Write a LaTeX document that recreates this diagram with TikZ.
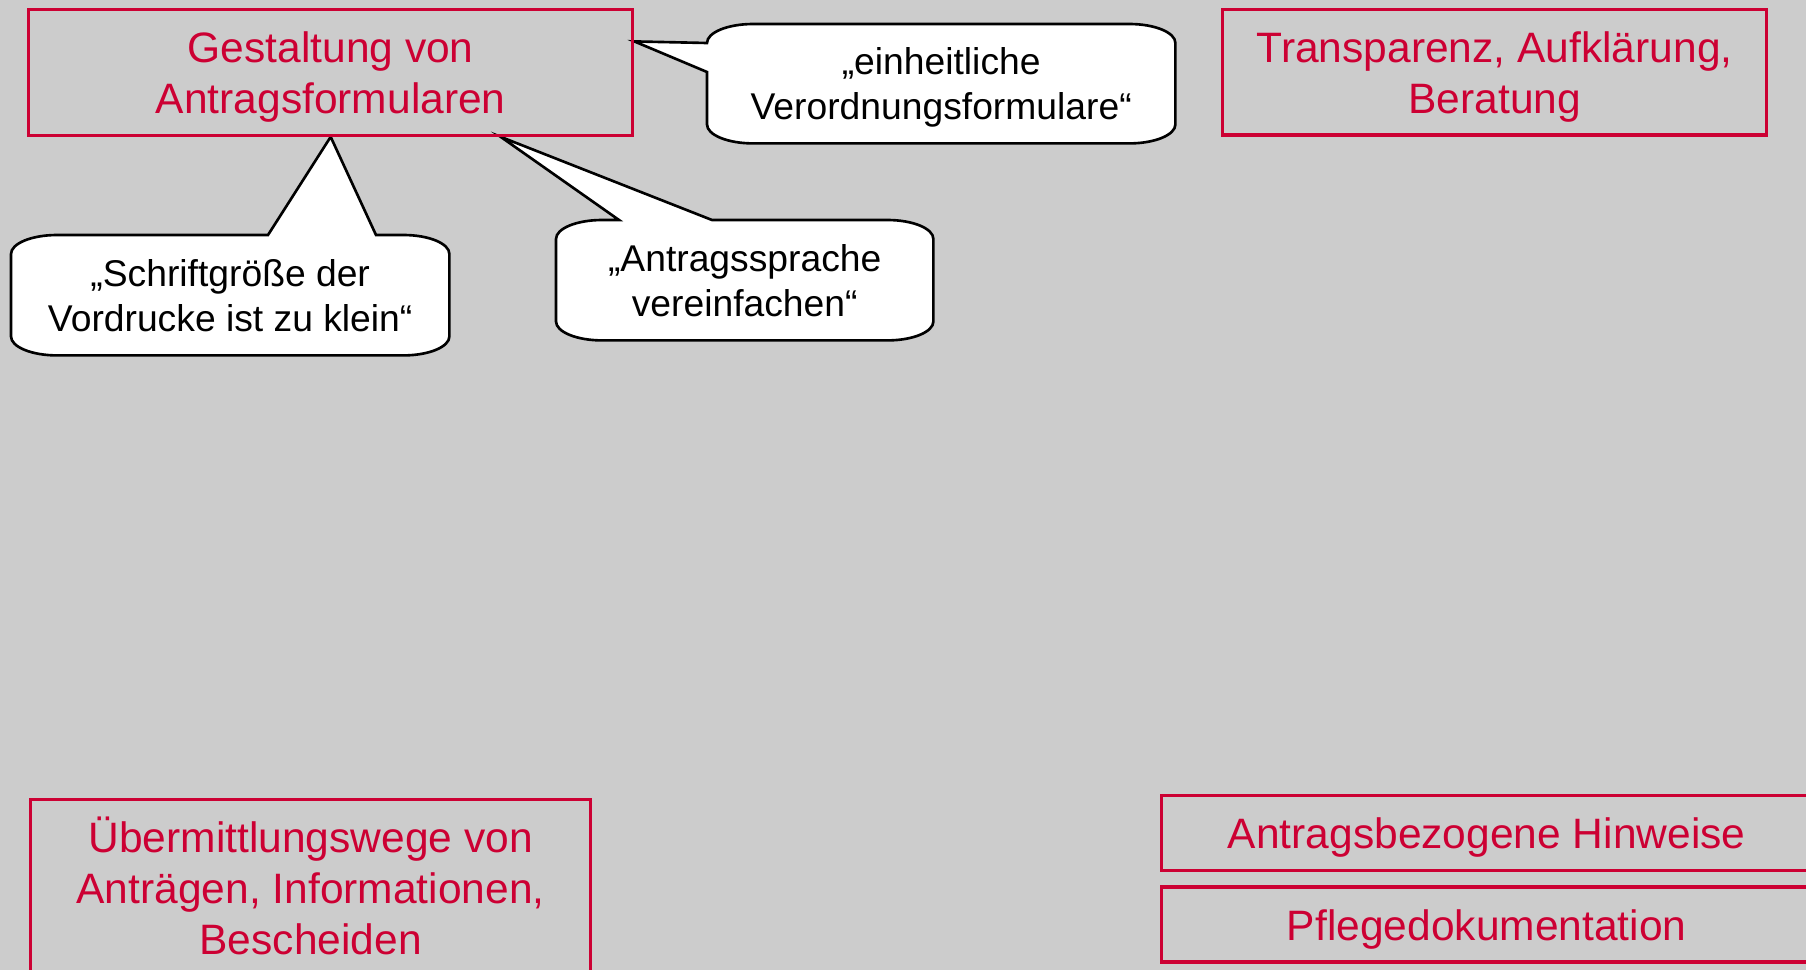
\documentclass[tikz,border=0pt]{standalone}
\usepackage{fontspec}
\setmainfont{Liberation Sans}
\usepackage{tikz}
\usetikzlibrary{positioning,backgrounds}
\definecolor{crimson}{HTML}{CC0033}
\definecolor{slidebg}{HTML}{CCCCCC}
\newcommand{\nodepth}[1]{\raisebox{0pt}[\height][0pt]{#1}}
\tikzset{
  topic/.style={draw=crimson,line width=0.95pt,text=crimson,align=center,
                inner sep=0pt,font=\fontsize{12.1}{14.5}\selectfont},
  quote/.style={align=center,inner sep=0pt,
                font=\fontsize{10.6}{12.8}\selectfont},
  bubble/.style={draw=black,fill=white,line width=0.75pt,
                 x radius=4.6mm,y radius=1.9mm},
}
\begin{document}
\begin{tikzpicture}
  \useasboundingbox (0,0) rectangle (18.06,-9.70);
  \begin{pgfonlayer}{background}
    \fill[slidebg] (0,0) rectangle (18.06,-9.70);
  \end{pgfonlayer}
  \clip (0,0) rectangle (18.06,-9.70);
  % topic boxes
  \node[topic,minimum width=6.04cm,minimum height=1.255cm,anchor=north west]
    (gestaltung)at(0.27,-0.08){Gestaltung von\\\nodepth{Antragsformularen}};
  \node[topic,minimum width=5.44cm,minimum height=1.255cm,anchor=north west]
    (transparenz)at(12.21,-0.077){Transparenz, Aufklärung,\\\nodepth{Beratung}};
  \node[topic,minimum width=5.60cm,minimum height=1.77cm,anchor=north west]
    (wege)at(0.29,-7.98){\smash{Ü}bermittlungswege von\\Anträgen, Informationen,\\Bescheiden};
  \node[topic,minimum width=6.51cm,minimum height=0.75cm,text depth=0pt,
    anchor=north west](hinweise)at(11.595,-7.935){Antragsbezogene Hinweise};
  \node[topic,minimum width=6.51cm,minimum height=0.75cm,text depth=0pt,
    below=1.36mm of hinweise](pflege){Pflegedokumentation};
  % quotes
  \node[quote,minimum width=4.67cm,minimum height=1.18cm,anchor=north west]
    (einheitlich)at(7.07,-0.24){„einheitliche\\\nodepth{Verordnungsformulare“}};
  \node[quote,minimum width=4.37cm,minimum height=1.19cm,anchor=north west]
    (schrift)at(0.11,-2.35){„Schriftgröße der\\Vordrucke ist zu klein“};
  \node[quote,minimum width=3.76cm,minimum height=1.19cm,anchor=north west]
    (sprache)at(5.56,-2.20){„Antragssprache\\vereinfachen“};
  % speech bubbles behind the quotes
  \begin{pgfonlayer}{background}
    \draw[bubble]([xshift=4.6mm]einheitlich.north west)
      --([xshift=-4.6mm]einheitlich.north east)arc[start angle=90,end angle=0]
      --([yshift=1.9mm]einheitlich.south east)arc[start angle=0,end angle=-90]
      --([xshift=4.6mm]einheitlich.south west)arc[start angle=-90,end angle=-180]
      --([yshift=-4.8mm]einheitlich.north west)
      --([yshift=3.1mm]gestaltung.east)
      --([yshift=-1.9mm]einheitlich.north west)arc[start angle=180,end angle=90]
      --cycle;
    \draw[bubble]([xshift=4.6mm]schrift.north west)
      --([xshift=2.57cm]schrift.north west)
      --(gestaltung.south)
      --([xshift=3.65cm]schrift.north west)
      --([xshift=-4.6mm]schrift.north east)arc[start angle=90,end angle=0]
      --([yshift=1.9mm]schrift.south east)arc[start angle=0,end angle=-90]
      --([xshift=4.6mm]schrift.south west)arc[start angle=-90,end angle=-180]
      --([yshift=-1.9mm]schrift.north west)arc[start angle=180,end angle=90]
      --cycle;
    \draw[bubble]([xshift=4.6mm]sprache.north west)
      --([xshift=0.63cm]sprache.north west)
      --([xshift=1.70cm]gestaltung.south)
      --([xshift=1.56cm]sprache.north west)
      --([xshift=-4.6mm]sprache.north east)arc[start angle=90,end angle=0]
      --([yshift=1.9mm]sprache.south east)arc[start angle=0,end angle=-90]
      --([xshift=4.6mm]sprache.south west)arc[start angle=-90,end angle=-180]
      --([yshift=-1.9mm]sprache.north west)arc[start angle=180,end angle=90]
      --cycle;
  \end{pgfonlayer}
\end{tikzpicture}
\end{document}
